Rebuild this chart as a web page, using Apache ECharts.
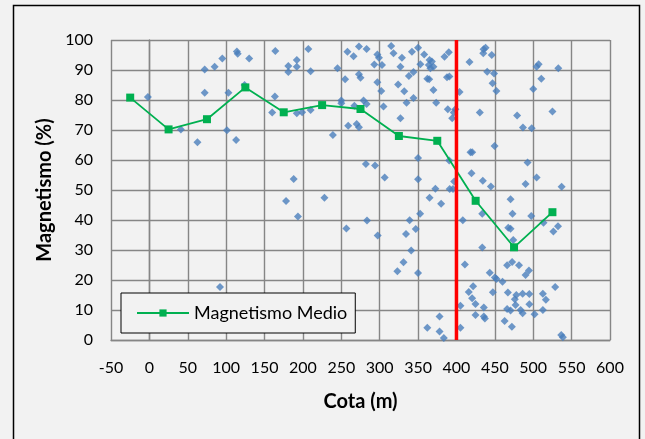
<!DOCTYPE html>
<html>
<head>
<meta charset="utf-8">
<script src="https://cdn.jsdelivr.net/npm/echarts@6/dist/echarts.min.js"></script>
<style>
  html, body { margin: 0; padding: 0; background: #f2f2f2; }
  #chart { width: 645px; height: 439px; }
</style>
</head>
<body>
<div id="chart"></div>
<script>
// Individual samples: elevation (m) and magnetism (%)
const cota = [
  -2, 72, 85, 95, 114, 115, 130, 164, 72, 103, 124, 163.5, 160, 41, 62.6, 101, 113, 92,
  207, 181, 192, 192, 181, 210, 192, 199, 210, 245, 239, 188, 258, 273, 266, 283, 255, 273, 275,
  250, 250, 267, 279, 283, 259, 270, 273, 297, 299, 293, 303, 297, 302, 305, 282, 294, 306.5,
  315, 318, 329, 327, 324, 332, 335, 327, 338, 344, 342, 350, 358, 353, 344, 350, 350,
  362, 364.5, 365, 368, 364, 366, 370, 370, 373.6, 384.4, 390, 387.7, 390.8, 388.7, 390.5, 372.5,
  398.7, 396.5, 394.4, 404, 417, 435.3, 437.9, 434.9, 446, 440, 449, 447, 452, 430.4, 479, 486.6,
  498, 525, 504.4, 507, 532.7, 510.5, 500, 449.6, 418.3, 420.5, 492.6, 419.6, 434.3, 444.8, 504.4,
  490, 537, 397, 391.2, 395.5,
  178, 228, 193.5, 256.6, 283.5, 297.4, 339, 352.7, 334.3, 347, 341, 331, 323, 350, 365, 380,
  378, 362, 378, 383.5,
  408.3, 433.6, 470.5, 473, 497.4, 467.5, 470.5, 474, 513.4, 532.3, 526.2, 433.6, 411, 466, 472.5,
  481.5, 494.4, 490, 443.4, 450, 452.2, 460, 421.7, 416, 420.4, 424.8, 447.4, 467, 478, 486.2,
  494.9, 476, 477, 512.6, 516.5, 528.6, 405.2, 435.6, 424.8, 435.6, 437, 466, 470.5, 483.6, 486.2,
  495, 501.7, 512.6, 462.7, 472.2, 405.2, 536.5, 538.6
];
const magnetismo = [
  81, 90.2, 91.1, 93.8, 96.2, 95.4, 93.8, 96.3, 82.4, 82.4, 85, 81.2, 75.8, 70.2, 65.9, 69.9, 66.7, 17.7,
  97, 91.3, 93.3, 91.1, 89.3, 89.6, 75.6, 75.9, 76.7, 90.6, 68.3, 53.7, 96.1, 97.8, 94.6, 97, 86.9, 88.6, 87.4,
  79.8, 78.9, 78.1, 79.8, 78.7, 71.4, 72, 70.9, 95.2, 94.1, 91.8, 91.7, 85.9, 83, 77.8, 58.7, 58.2, 54.2,
  98, 95.6, 94.1, 91.1, 85.2, 82.9, 79.1, 73.9, 88, 89.3, 96.1, 97.4, 95.2, 91.9, 80.7, 60.7, 53.6,
  87.1, 86.9, 93.3, 92.8, 91.7, 90.6, 91.1, 83.3, 79.1, 94.4, 95.9, 87.6, 87.8, 76.9, 59.8, 50.4,
  76.9, 75.8, 73.9, 82.7, 92.7, 96.9, 97.4, 95.6, 95, 89.4, 88.8, 85.6, 83, 75.8, 74.8, 70.8,
  70.6, 76.2, 91.1, 91.9, 90.6, 87.1, 83.7, 64.7, 62.6, 62.6, 59.2, 55.6, 53.1, 51.2, 54.2,
  52, 51.1, 52.8, 50.3, 50.3,
  46.3, 47.4, 41.2, 37.2, 39.8, 34.8, 39.9, 42.1, 35.3, 37, 29.8, 25.9, 22.9, 22.3, 47.4, 45.4,
  7.8, 4.1, 2.8, 0.7,
  39.9, 42.1, 46.9, 42.1, 41.3, 37.4, 37.1, 33.3, 39.1, 37.9, 36.2, 30.8, 25.2, 24.9, 26,
  24.9, 23.2, 21.7, 22.4, 20.8, 20.3, 19.4, 17.9, 16, 13.9, 12, 15.9, 15.8, 15, 15.4,
  15.3, 13.6, 11.7, 15.4, 13.4, 17.7, 11.4, 10.8, 8.3, 7.8, 7.2, 10.3, 9.8, 10, 8.9,
  11.9, 8.6, 10, 6.3, 4.4, 4.1, 1.7, 0.9
];

// Mean magnetism per 50 m elevation bin
const cotaMedia = [-25, 25, 75, 125, 175, 225, 275, 325, 375, 425, 475, 525];
const magnetismoMedio = [80.8, 70.2, 73.6, 84.2, 75.9, 78.3, 77, 68, 66.4, 46.4, 30.9, 42.6];

// Reference elevation line
const cotaLimite = 400;
const limiteY = [0, 100];

const font = 'Lato, "Open Sans", sans-serif';

const chart = echarts.init(document.getElementById('chart'));
chart.setOption({
  backgroundColor: '#f2f2f2',
  animation: false,
  textStyle: { fontFamily: font },
  grid: { left: 111, right: 35, top: 40, bottom: 99 },
  xAxis: {
    type: 'value',
    min: -50, max: 600, interval: 50,
    name: 'Cota (m)',
    nameLocation: 'middle',
    nameGap: 52,
    nameTextStyle: { fontFamily: font, fontWeight: 'bold', fontSize: 20, color: '#000' },
    axisLine: { show: true, onZero: false, lineStyle: { color: '#868686', width: 1.4 } },
    axisTick: { show: false },
    axisLabel: { fontFamily: font, fontSize: 16, color: '#000', margin: 20 },
    splitLine: { show: true, lineStyle: { color: '#868686', width: 1.4 } }
  },
  yAxis: {
    type: 'value',
    min: 0, max: 100, interval: 10,
    name: 'Magnetismo (%)',
    nameLocation: 'middle',
    nameGap: 56,
    nameTextStyle: { fontFamily: font, fontWeight: 'bold', fontSize: 20, color: '#000' },
    axisLine: { show: true, lineStyle: { color: '#868686', width: 1.4 } },
    axisTick: { show: false },
    axisLabel: { fontFamily: font, fontSize: 16, color: '#000', margin: 18 },
    splitLine: { show: true, lineStyle: { color: '#868686', width: 1.4 } }
  },
  legend: {
    data: ['Magnetismo Medio'],
    left: 121, top: 293,
    orient: 'horizontal',
    backgroundColor: '#f2f2f2',
    borderColor: '#000', borderWidth: 1,
    padding: [11, 8, 11, 15],
    itemWidth: 52, itemHeight: 9,
    textStyle: { fontFamily: font, fontSize: 18, color: '#000' }
  },
  graphic: [{
    type: 'rect',
    shape: { x: 13.5, y: 5.5, width: 626, height: 450 },
    style: { fill: 'none', stroke: '#000', lineWidth: 1.5 },
    silent: true, z: 100
  }],
  series: [
    {
      name: 'Magnetismo',
      type: 'scatter',
      symbol: 'diamond',
      symbolSize: 8,
      itemStyle: { color: '#4a7ebb' },
      data: cota.map((c, i) => [c, magnetismo[i]]),
      z: 3
    },
    {
      name: 'Magnetismo Medio',
      type: 'line',
      symbol: 'rect',
      symbolSize: 8,
      lineStyle: { color: '#00b050', width: 1.8 },
      itemStyle: { color: '#00b050' },
      data: cotaMedia.map((c, i) => [c, magnetismoMedio[i]]),
      z: 4
    },
    {
      name: 'Cota límite',
      type: 'line',
      symbol: 'none',
      lineStyle: { color: '#ff0000', width: 3.5 },
      data: limiteY.map(v => [cotaLimite, v]),
      z: 5
    }
  ]
});
</script>
</body>
</html>
